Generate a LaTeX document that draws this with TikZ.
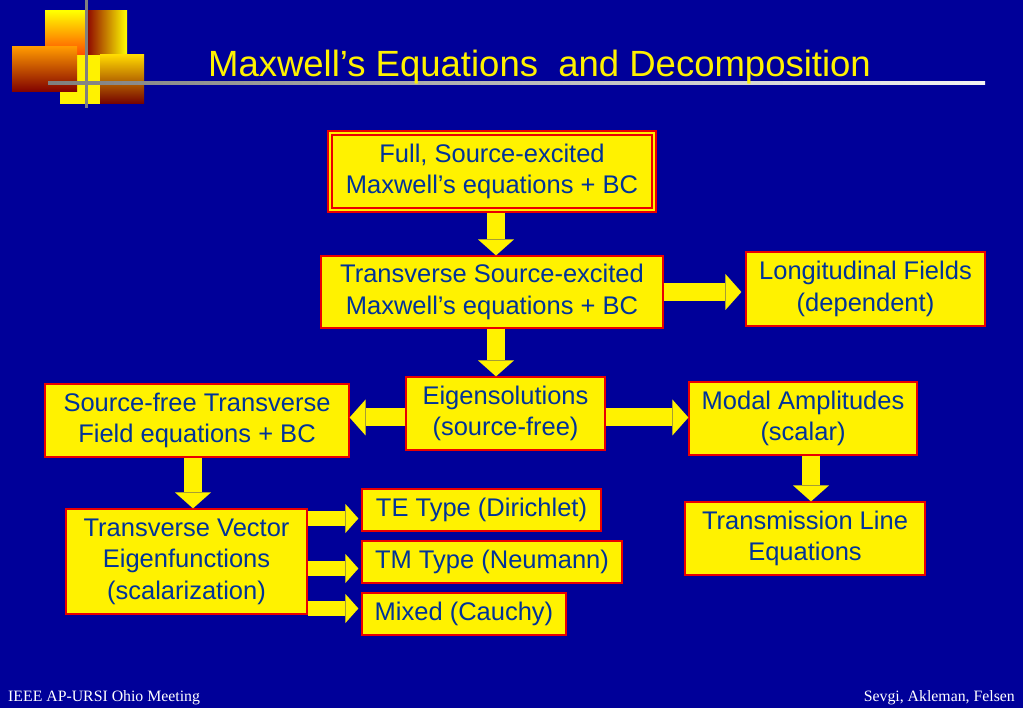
\documentclass[tikz,border=0pt]{standalone}
\usepackage{fontspec}
\setmainfont{Liberation Sans}
\newfontfamily\footfont{Liberation Serif}
\usetikzlibrary{arrows.meta}
\definecolor{slideblue}{RGB}{0,0,153}
\definecolor{boxtext}{RGB}{0,51,153}
\definecolor{boxred}{RGB}{235,0,0}
\tikzset{
  box/.style={draw=boxred, line width=1.2pt, fill=yellow, text=boxtext, align=center,
    inner sep=0pt, font=\fontsize{25.5}{31.5}\selectfont},
  fullbox/.style={box, line width=2pt, double=yellow, double distance=2pt, outer sep=3pt},
  bigarrow/.style={yellow, line width=18pt, -{Triangle[width=36pt,length=16pt,line width=0pt]}},
  smallarrow/.style={yellow, line width=15pt, -{Triangle[width=29pt,length=13pt,line width=0pt]}, shorten >=3pt},
  footer/.style={text=white, font=\footfont\fontsize{15.8}{18}\selectfont, inner sep=0pt},
}
\begin{document}
\begin{tikzpicture}[x=1pt, y=-1pt]
\useasboundingbox (0,0) rectangle (1023,708);
\fill[slideblue] (0,0) rectangle (1023,708);

% logo
\shade[top color=yellow, bottom color=orange!60!red] (45,11) rectangle (86,55);
\shade[left color=red!55!black, middle color=red, right color=yellow] (86,11) rectangle (127,55);
\fill[yellow] (60,55) rectangle (100,104);
\shade[top color=yellow!70!orange, middle color=red, bottom color=red!45!black] (100,55) rectangle (144,104);
\shade[shading angle=30, top color=orange!80!yellow, bottom color=red!50!black] (12,47) rectangle (77,92);
\fill[gray] (84.5,0) rectangle (88,108);
\shade[left color=gray, right color=white!90!gray] (48,82) rectangle (985,85);

\node[anchor=base, text=yellow, font=\fontsize{36.5}{40}\selectfont, inner sep=0pt] (title) at (539.5,77)
  {Maxwell’s Equations\ \ and Decomposition};

\node[fullbox, minimum width=324pt, minimum height=77pt] (full) at (492,171.5)
  {Full, Source-excited\\Maxwell’s equations + BC};
\node[box, minimum width=342pt, minimum height=72pt] (trans) at (492,292)
  {Transverse Source-excited\\Maxwell’s equations + BC};
\node[box, minimum width=239pt, minimum height=74pt] (longi) at (865.5,289)
  {Longitudinal Fields\\(dependent)};
\node[box, minimum width=199pt, minimum height=73pt] (eigen) at (505.5,413.5)
  {Eigensolutions\\(source-free)};
\node[box, minimum width=304pt, minimum height=73pt] (srcfree) at (197,420.5)
  {Source-free Transverse\\Field equations + BC};
\node[box, minimum width=228pt, minimum height=73pt] (modal) at (803,418.5)
  {Modal Amplitudes\\(scalar)};
\node[box, minimum width=241pt, minimum height=105pt] (tvec) at (186.5,561.5)
  {Transverse Vector\\Eigenfunctions\\(scalarization)};
\node[box, minimum width=239pt, minimum height=42pt] (te) at (481.5,510)
  {TE Type (Dirichlet)};
\node[box, minimum width=260pt, minimum height=42pt] (tm) at (492,562)
  {TM Type (Neumann)};
\node[box, minimum width=204pt, minimum height=42pt] (mixed) at (464,614)
  {Mixed (Cauchy)};
\node[box, minimum width=240pt, minimum height=73pt] (tline) at (805,538.5)
  {Transmission Line\\Equations};

\draw[bigarrow] ([xshift=4pt]full.south) -- ([xshift=4pt]trans.north);
\draw[bigarrow, shorten >=4pt] (trans.east) -- (trans.east -| longi.west);
\draw[bigarrow] ([xshift=4pt]trans.south) -- ([xshift=4pt]trans.south |- eigen.north);
\draw[bigarrow] ([yshift=-4pt]eigen.west) -- ([yshift=-4pt]eigen.west -| srcfree.east);
\draw[bigarrow] ([yshift=-4pt]eigen.east) -- ([yshift=-4pt]eigen.east -| modal.west);
\draw[bigarrow] ([xshift=-4pt]srcfree.south) -- ([xshift=-4pt]srcfree.south |- tvec.north);
\draw[bigarrow] ([xshift=8pt]modal.south) -- ([xshift=8pt]modal.south |- tline.north);
\draw[smallarrow] ([yshift=43pt]tvec.east) -- ([yshift=43pt]tvec.east -| te.west);
\draw[smallarrow] ([yshift=-7pt]tvec.east) -- ([yshift=-7pt]tvec.east -| tm.west);
\draw[smallarrow] ([yshift=-47pt]tvec.east) -- ([yshift=-47pt]tvec.east -| mixed.west);

\node[footer, anchor=base west] (meeting) at (8,701) {IEEE AP-URSI Ohio Meeting};
\node[footer, anchor=base east] (authors) at (1015,701) {Sevgi, Akleman, Felsen};
\end{tikzpicture}
\end{document}
